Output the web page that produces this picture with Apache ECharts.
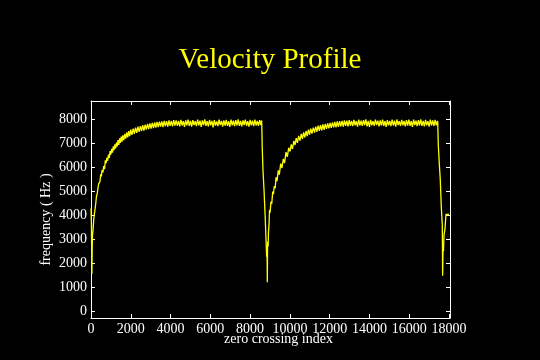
<!DOCTYPE html>
<html>
<head>
<meta charset="utf-8">
<script src="https://cdn.jsdelivr.net/npm/echarts@6/dist/echarts.min.js"></script>
<style>html,body{margin:0;padding:0;background:#000;}#c{width:540px;height:360px;}</style>
</head>
<body>
<div id="c"></div>
<script>
const titleText = 'Velocity Profile';
const xName = 'zero crossing index';
const yName = 'frequency ( Hz )';
const xTicks = [0, 2000, 4000, 6000, 8000, 10000, 12000, 14000, 16000, 18000];
const yTicks = [0, 1000, 2000, 3000, 4000, 5000, 6000, 7000, 8000];

// [zero crossing index, frequency (Hz)]
const rise1 = [[0,4280],[20,3700],[45,1550],[60,2600],[75,3190],[105,3400],[140,3850],[176,3890],[210,4300],[236,4470],[270,4750],[317,4930],[350,4950],[380,5300],[417,5350],[450,5400],[490,5720],[520,5620],[560,5890],[600,5780],[640,6050],[680,5920],[720,6290],[760,6170],[800,6400],[840,6270],[880,6530],[920,6390],[960,6670],[1000,6530],[1040,6770],[1080,6610],[1120,6870],[1160,6710],[1200,6950],[1240,6790],[1280,7030],[1320,6870],[1360,7130],[1400,6930],[1440,7200],[1480,7010],[1520,7280],[1560,7070],[1600,7330],[1650,7130],[1700,7390],[1750,7190],[1800,7450],[1850,7250],[1900,7510],[1950,7300],[2000,7570],[2060,7350],[2120,7610],[2180,7390],[2240,7650],[2300,7430],[2360,7690],[2420,7470],[2480,7710],[2540,7510],[2600,7750],[2660,7530],[2720,7770],[2780,7570],[2840,7810],[2900,7590],[2960,7830],[3020,7610],[3080,7850],[3140,7630],[3200,7870],[3260,7650],[3320,7890],[3380,7670],[3440,7900],[3500,7690],[3560,7910],[3620,7670],[3680,7930],[3740,7710],[3800,7920],[3860,7690],[3920,7950],[3980,7720],[4040,7930],[4100,7700],[4160,7960],[4220,7730]];

const plateau1 = [[4280,7950],[4340,7730],[4400,7930],[4460,7700],[4520,7970],[4580,7740],[4640,7920],[4700,7680],[4760,7950],[4820,7750],[4880,7980],[4940,7720],[5000,7930],[5060,7690],[5120,7960],[5180,7760],[5240,7920],[5300,7710],[5360,7980],[5420,7740],[5480,7940],[5540,7680],[5600,7950],[5660,7760],[5720,7990],[5780,7720],[5840,7920],[5900,7700],[5960,7970],[6020,7750],[6080,7930],[6140,7660],[6200,7960],[6260,7740],[6320,7910],[6380,7710],[6440,7980],[6500,7760],[6560,7930],[6620,7690],[6680,7950],[6740,7730],[6800,7970],[6860,7720],[6920,7920],[6980,7680],[7040,7980],[7100,7750],[7160,7940],[7220,7710],[7280,7960],[7340,7740],[7400,7990],[7460,7720],[7520,7930],[7580,7700],[7640,7950],[7700,7760],[7760,7980],[7820,7730],[7880,7920],[7940,7690],[8000,7970],[8060,7750],[8120,7940],[8180,7710],[8240,7980],[8300,7740],[8360,7930],[8420,7720],[8480,7960],[8540,7760],[8580,7950]];

const rise2 = [[8585,7840],[8610,6810],[8650,5820],[8700,5050],[8750,4080],[8800,3000],[8830,2275],[8850,2500],[8865,1210],[8880,2900],[8905,2700],[8925,3320],[8950,3600],[8975,4220],[9000,4100],[9050,4570],[9090,4480],[9135,4990],[9175,4880],[9216,5220],[9260,5120],[9301,5580],[9350,5420],[9417,5870],[9470,5690],[9537,6150],[9600,5970],[9668,6350],[9730,6170],[9804,6630],[9870,6430],[9940,6810],[10005,6660],[10070,6950],[10130,6760],[10200,7100],[10256,6920],[10320,7210],[10380,7020],[10440,7310],[10508,7110],[10570,7390],[10630,7180],[10690,7450],[10750,7240],[10810,7510],[10870,7300],[10930,7570],[10990,7360],[11050,7610],[11110,7400],[11177,7650],[11240,7440],[11300,7690],[11360,7480],[11420,7730],[11480,7520],[11540,7750],[11600,7540],[11660,7790],[11720,7560],[11780,7810],[11840,7600],[11900,7830],[11960,7620],[12020,7850],[12080,7640],[12140,7870],[12200,7660],[12260,7890],[12320,7660],[12380,7910],[12440,7680],[12500,7920],[12560,7700],[12620,7930],[12680,7690],[12740,7950],[12800,7720],[12860,7940],[12920,7700],[12980,7960],[13040,7730]];

const plateau2 = [[13100,7930],[13160,7710],[13220,7970],[13280,7750],[13340,7920],[13400,7690],[13460,7980],[13520,7740],[13580,7940],[13640,7720],[13700,7960],[13760,7760],[13820,7990],[13880,7700],[13940,7930],[14000,7680],[14060,7970],[14120,7750],[14180,7920],[14240,7720],[14300,7980],[14360,7760],[14420,7940],[14480,7700],[14540,7950],[14600,7740],[14660,7980],[14720,7720],[14780,7920],[14840,7680],[14900,7960],[14960,7750],[15020,7930],[15080,7710],[15140,7980],[15200,7740],[15260,7940],[15320,7690],[15380,7990],[15440,7760],[15500,7920],[15560,7720],[15620,7970],[15680,7750],[15740,7930],[15800,7700],[15860,7960],[15920,7730],[15980,7980],[16040,7720],[16100,7920],[16160,7680],[16220,7980],[16280,7760],[16340,7940],[16400,7710],[16460,7960],[16520,7740],[16580,7990],[16640,7720],[16700,7930],[16760,7700],[16820,7970],[16880,7750],[16940,7920],[17000,7690],[17060,7980],[17120,7740],[17180,7950],[17240,7720],[17300,7970],[17360,7750],[17420,7930]];

const drop2 = [[17435,7840],[17461,6930],[17511,6170],[17562,5470],[17612,4360],[17662,3600],[17680,1480],[17700,2625],[17722,2500],[17748,3180],[17798,3420],[17848,4040],[18000,4040]];

const seriesData = rise1.concat(plateau1, rise2, plateau2, drop2);

const chart = echarts.init(document.getElementById('c'), null, {renderer: 'canvas'});
const FONT = 'Liberation Serif';
const X_MIN = 0, X_MAX = 18050, Y_MIN = -280, Y_MAX = 8760;
const white = '#ffffff';
function axisBase(pos, ticks, showLabel) {
  return {
    type: 'value', position: pos,
    axisLine: {show: true, onZero: false, lineStyle: {color: white, width: 1}},
    axisTick: {show: true, inside: true, length: 4, customValues: ticks, lineStyle: {color: white, width: 1}},
    axisLabel: {show: showLabel, customValues: ticks, color: white, fontFamily: FONT, fontSize: 14, margin: 4,
      formatter: function (v) { return String(v); }},
    splitLine: {show: false}
  };
}
const xb = Object.assign(axisBase('bottom', xTicks, true), {min: X_MIN, max: X_MAX, name: xName, nameLocation: 'middle', nameGap: 14, nameMoveOverlap: false, nameTextStyle: {color: white, fontFamily: FONT, fontSize: 14, padding: [0,0,0,16]}});
const xt = Object.assign(axisBase('top', xTicks, false), {min: X_MIN, max: X_MAX});
const yl = Object.assign(axisBase('left', yTicks, true), {min: Y_MIN, max: Y_MAX, name: yName, nameLocation: 'middle', nameGap: 38, nameMoveOverlap: false, nameTextStyle: {color: white, fontFamily: FONT, fontSize: 14, padding: [0,20,0,0]}});
const yr = Object.assign(axisBase('right', yTicks, false), {min: Y_MIN, max: Y_MAX});

chart.setOption({
  backgroundColor: '#000000',
  animation: false,
  title: {text: titleText, left: 'center', top: 41, textStyle: {color: '#ffff00', fontFamily: FONT, fontSize: 29, fontWeight: 'normal'}},
  grid: {left: 91, right: 90, top: 101, bottom: 42, containLabel: false},
  xAxis: [xb, xt],
  yAxis: [yl, yr],
  series: [{
    type: 'line', xAxisIndex: 0, yAxisIndex: 0,
    data: seriesData, showSymbol: false, symbol: 'none',
    lineStyle: {color: '#ffff00', width: 1.3}
  }]
});
</script>
</body>
</html>
